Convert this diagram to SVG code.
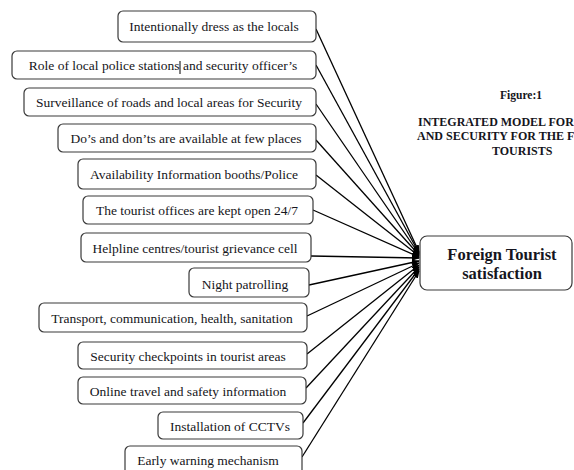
<svg xmlns="http://www.w3.org/2000/svg" width="574" height="470" viewBox="0 0 574 470">
<defs>
<style>
.box{fill:#fff;stroke:#3a3a3a;stroke-width:1.2}
.t{font-family:"Liberation Serif","Times New Roman",serif;font-size:13.5px;fill:#151520;text-anchor:middle}
.c{stroke:#000;stroke-width:1.3;fill:none;marker-end:url(#ah)}
.h{font-family:"Liberation Serif","Times New Roman",serif;font-weight:bold;font-size:12px;fill:#151520}
.big{font-family:"Liberation Serif","Times New Roman",serif;font-weight:bold;font-size:16.5px;fill:#151520;text-anchor:middle}
</style>
<marker id="ah" markerWidth="8" markerHeight="6" refX="7" refY="3" orient="auto" markerUnits="userSpaceOnUse">
<path d="M0,0 L8,3 L0,6 Z" fill="#000"/>
</marker>
</defs>
<rect width="574" height="470" fill="#fff"/>
<g id="connectors">
<line class="c" x1="316" y1="29" x2="419" y2="252"/>
<line class="c" x1="316" y1="65" x2="419" y2="253"/>
<line class="c" x1="316" y1="104" x2="419" y2="254"/>
<line class="c" x1="316" y1="140" x2="419" y2="255"/>
<line class="c" x1="316" y1="175" x2="419" y2="256"/>
<line class="c" x1="313" y1="210" x2="419" y2="257"/>
<line class="c" x1="311" y1="256" x2="419" y2="258"/>
<line class="c" x1="309" y1="285" x2="419" y2="261"/>
<line class="c" x1="307" y1="316" x2="419" y2="263"/>
<line class="c" x1="307" y1="354" x2="419" y2="265"/>
<line class="c" x1="306" y1="388" x2="419" y2="267"/>
<line class="c" x1="303" y1="423" x2="419" y2="269"/>
<line class="c" x1="302" y1="457" x2="419" y2="271"/>
</g>
<g id="n1"><rect class="box" x="118" y="11" width="198" height="31" rx="5"/><text class="t" x="214" y="31">Intentionally dress as the locals</text></g>
<g id="n2"><rect class="box" x="12" y="51" width="304" height="28" rx="5"/><text class="t" x="163" y="70">Role of local police stations and security officer’s</text><line x1="180" y1="61" x2="180" y2="74" stroke="#000" stroke-width="1"/></g>
<g id="n3"><rect class="box" x="24" y="88" width="292" height="28" rx="5"/><text class="t" x="169" y="107">Surveillance of roads and local areas for Security</text></g>
<g id="n4"><rect class="box" x="58" y="124" width="258" height="28" rx="5"/><text class="t" x="186" y="143">Do’s and don’ts are available at few places</text></g>
<g id="n5"><rect class="box" x="78" y="159" width="238" height="30" rx="5"/><text class="t" x="194" y="179">Availability Information booths/Police</text></g>
<g id="n6"><rect class="box" x="83" y="196" width="230" height="28" rx="5"/><text class="t" x="197" y="215">The tourist offices are kept open 24/7</text></g>
<g id="n7"><rect class="box" x="81" y="233" width="230" height="29" rx="5"/><text class="t" x="195" y="253">Helpline centres/tourist grievance cell</text></g>
<g id="n8"><rect class="box" x="189" y="268" width="120" height="29" rx="5"/><text class="t" x="245" y="289">Night patrolling</text></g>
<g id="n9"><rect class="box" x="39" y="303" width="268" height="29" rx="5"/><text class="t" x="172" y="323">Transport, communication, health, sanitation</text></g>
<g id="n10"><rect class="box" x="78" y="342" width="229" height="27" rx="5"/><text class="t" x="188" y="361">Security checkpoints in tourist areas</text></g>
<g id="n11"><rect class="box" x="78" y="377" width="228" height="27" rx="5"/><text class="t" x="188" y="396">Online travel and safety information</text></g>
<g id="n12"><rect class="box" x="158" y="412" width="145" height="27" rx="5"/><text class="t" x="230" y="431">Installation of CCTVs</text></g>
<g id="n13"><rect class="box" x="125" y="446" width="177" height="30" rx="5"/><text class="t" x="208" y="465">Early warning mechanism</text></g>
<g id="target"><rect class="box" x="420" y="236" width="152" height="54" rx="7"/><text class="big" x="502" y="260">Foreign Tourist</text><text class="big" x="502" y="279">satisfaction</text></g>
<g id="title">
<text class="h" x="521" y="99" text-anchor="middle" style="font-size:11.5px">Figure:1</text>
<text class="h" x="418" y="126">INTEGRATED MODEL FOR</text>
<text class="h" x="417" y="140">AND SECURITY FOR THE F</text>
<text class="h" x="492" y="155">TOURISTS</text>
</g>
</svg>
